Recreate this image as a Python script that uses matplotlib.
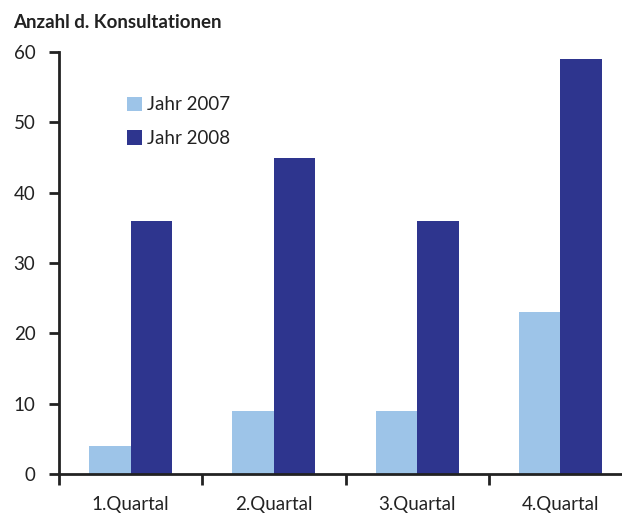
"""Konsultationen pro Quartal, Jahr 2007 vs. 2008."""

import matplotlib

matplotlib.use("Agg")
import matplotlib.pyplot as plt
import numpy as np

quarters = ["1.Quartal", "2.Quartal", "3.Quartal", "4.Quartal"]
year_2007 = [4, 9, 9, 23]
year_2008 = [36, 45, 36, 59]
y_ticks = [0, 10, 20, 30, 40, 50, 60]

plt.rcParams["font.family"] = ["Lato", "DejaVu Sans"]

fig = plt.figure(figsize=(6.22, 5.17), dpi=100)
ax = fig.add_axes([59 / 622, 43 / 517, 573 / 622, 422 / 517])

x = np.arange(len(quarters))
width = 0.29
ax.bar(x - width / 2, year_2007, width, color="#9dc4e8", label="Jahr 2007")
ax.bar(x + width / 2, year_2008, width, color="#2e358e", label="Jahr 2008")

ax.set_xlim(-0.5, len(quarters) - 0.5)
ax.set_ylim(0, 60)
ax.set_yticks(y_ticks)
ax.set_yticklabels([str(v) for v in y_ticks], fontsize=13.5, color="#222222")
ax.set_xticks(np.arange(len(quarters) + 1) - 0.5)
ax.set_xticklabels([])
ax.set_xticks(x, minor=True)
ax.set_xticklabels(quarters, minor=True, fontsize=13.5, color="#222222")
ax.tick_params(axis="x", which="minor", length=0, pad=16)
ax.tick_params(axis="x", which="major", length=8, width=2, color="#222222")
ax.tick_params(axis="y", length=7, width=2, color="#222222", pad=10)

for side in ("top", "right"):
    ax.spines[side].set_visible(False)
for side in ("left", "bottom"):
    ax.spines[side].set_linewidth(2)
    ax.spines[side].set_color("#222222")

ax.legend(
    loc="upper left",
    bbox_to_anchor=(0.09, 0.935),
    frameon=False,
    fontsize=13.5,
    handlelength=0.8,
    handleheight=0.8,
    handletextpad=0.25,
    labelspacing=0.9,
    labelcolor="#222222",
)

fig.text(13 / 622, 1 - 22 / 517, "Anzahl d. Konsultationen", fontsize=13.5,
         fontweight="bold", color="#222222", va="center")

fig.savefig("out.png", dpi=100)
